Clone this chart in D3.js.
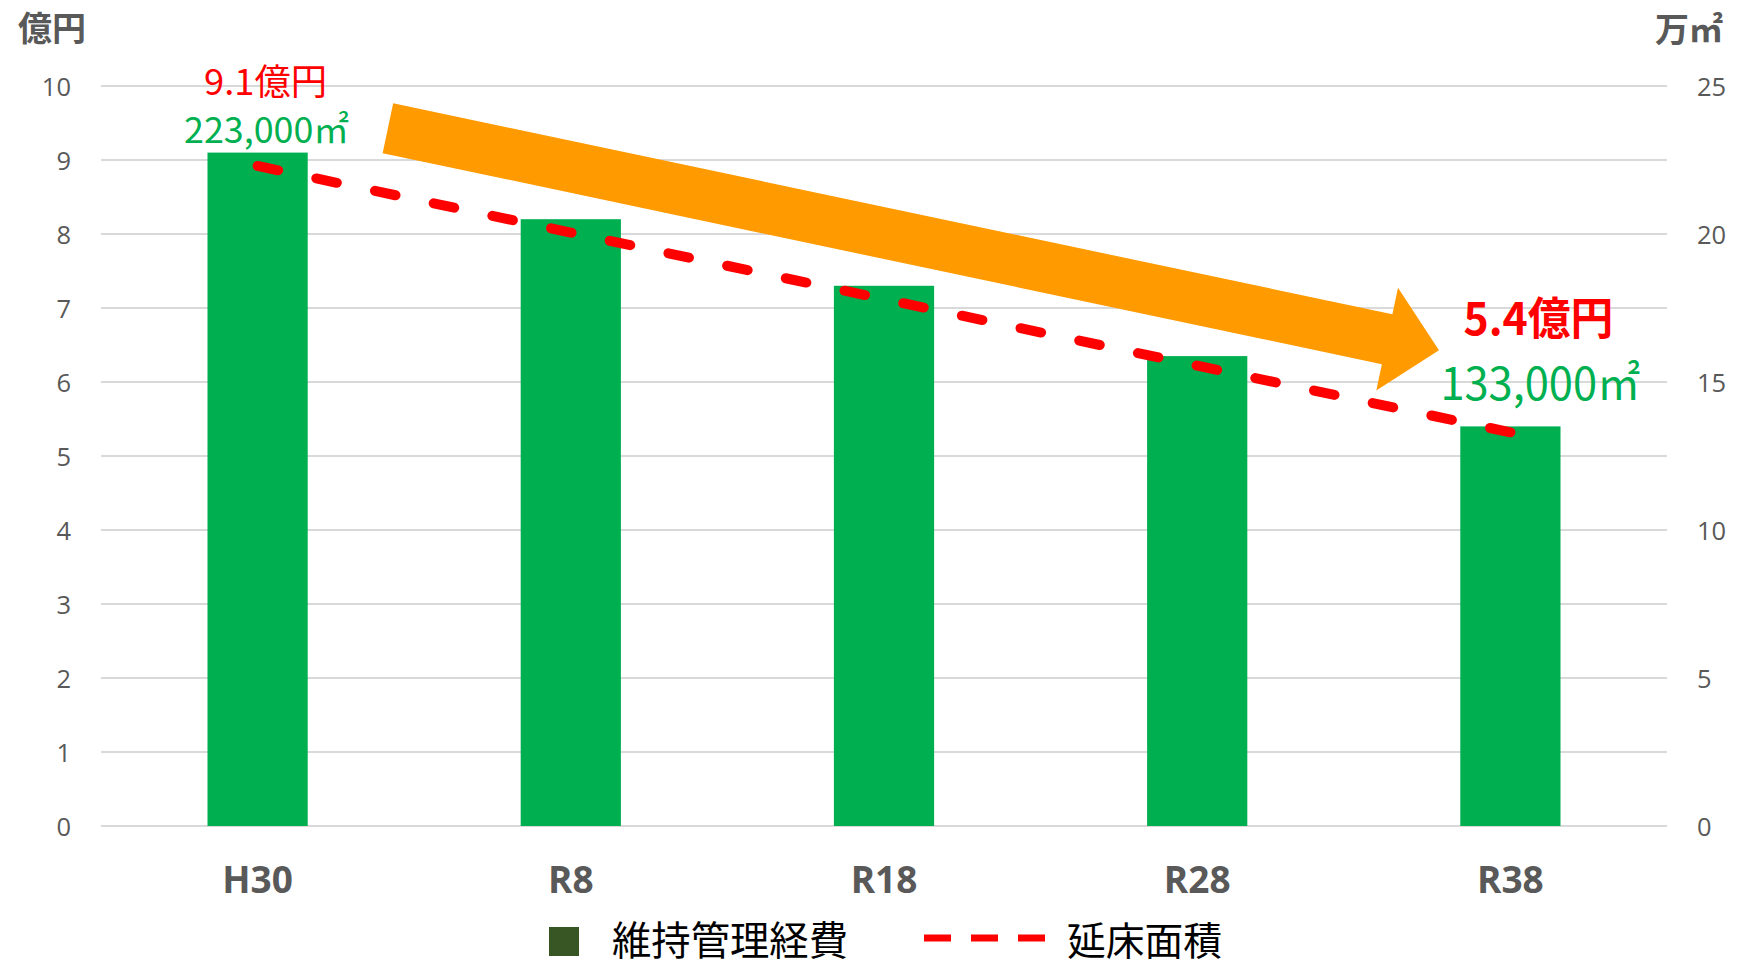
<!DOCTYPE html>
<html>
<head>
<meta charset="utf-8">
<script src="https://cdn.jsdelivr.net/npm/d3@7"></script>
<style>
  html, body { margin: 0; padding: 0; background: #ffffff; }
  svg { display: block; }
</style>
</head>
<body>
<svg id="chart" width="1748" height="966"></svg>
<script>
// ---------- data ----------
const categories = ["H30", "R8", "R18", "R28", "R38"];
const costValues = [9.1, 8.2, 7.3, 6.35, 5.4];          // 維持管理経費 (億円)
const areaValues = [22.3, 20.05, 17.8, 15.55, 13.3];    // 延床面積 (万㎡)
const leftTicks = [0, 1, 2, 3, 4, 5, 6, 7, 8, 9, 10];
const rightTicks = [0, 5, 10, 15, 20, 25];
const leftTitle = "億円";
const rightTitle = "万㎡";
const seriesNames = ["維持管理経費", "延床面積"];
const startCostLabel = "9.1億円";
const startAreaLabel = "223,000㎡";
const endCostLabel = "5.4億円";
const endAreaLabel = "133,000㎡";

// ---------- layout ----------
const W = 1748, H = 966;
const plot = { left: 101, right: 1667, top: 86, bottom: 826 };
const CJK = "'Noto Sans CJK JP', 'Noto Sans CJK SC', sans-serif";
const NUM = "'Open Sans', 'Noto Sans', sans-serif";
const GRAY = "#595959";
const GREEN = "#00B050";
const RED = "#FF0000";

const svg = d3.select("#chart");

const x = d3.scaleBand().domain(categories)
  .range([plot.left, plot.right]).paddingInner(0.68).paddingOuter(0.34);
const step = x.step();
const cx = c => x(c) + x.bandwidth() / 2;
const yL = d3.scaleLinear().domain([0, 10]).range([plot.bottom, plot.top]);
const yR = d3.scaleLinear().domain([0, 25]).range([plot.bottom, plot.top]);

// gridlines
svg.append("g").selectAll("line").data(leftTicks).join("line")
  .attr("x1", plot.left).attr("x2", plot.right)
  .attr("y1", d => yL(d)).attr("y2", d => yL(d))
  .attr("stroke", "#D9D9D9").attr("stroke-width", 2);

// left axis
const gL = svg.append("g").attr("transform", `translate(${plot.left - 30},0)`)
  .call(d3.axisLeft(yL).tickValues(leftTicks).tickSize(0).tickPadding(0).tickFormat(d3.format("d")));
gL.select(".domain").remove();
gL.selectAll("text").attr("font-family", NUM).attr("font-size", 25.5)
  .attr("fill", GRAY).attr("dy", "0.36em");

// right axis
const gR = svg.append("g").attr("transform", `translate(${plot.right + 30},0)`)
  .call(d3.axisRight(yR).tickValues(rightTicks).tickSize(0).tickPadding(0).tickFormat(d3.format("d")));
gR.select(".domain").remove();
gR.selectAll("text").attr("font-family", NUM).attr("font-size", 25.5)
  .attr("fill", GRAY).attr("dy", "0.36em");

// bottom axis labels
const gX = svg.append("g").attr("transform", `translate(0,${plot.bottom})`)
  .call(d3.axisBottom(x).tickSize(0).tickPadding(0));
gX.select(".domain").remove();
gX.selectAll("text").attr("font-family", NUM).attr("font-size", 37)
  .attr("font-weight", "bold").attr("fill", GRAY)
  .attr("dy", null).attr("y", 67);

// axis titles
svg.append("text").attr("x", 52).attr("y", 41).attr("text-anchor", "middle")
  .attr("font-family", CJK).attr("font-size", 34).attr("font-weight", "bold")
  .attr("fill", GRAY).text(leftTitle);
svg.append("text").attr("x", 1689).attr("y", 42).attr("text-anchor", "middle")
  .attr("font-family", CJK).attr("font-size", 34).attr("font-weight", "bold")
  .attr("fill", GRAY).text(rightTitle);

// bars
svg.append("g").selectAll("rect").data(categories).join("rect")
  .attr("x", c => x(c)).attr("width", x.bandwidth())
  .attr("y", (c, i) => yL(costValues[i]))
  .attr("height", (c, i) => yL(0) - yL(costValues[i]))
  .attr("fill", GREEN);

// dashed line
const line = d3.line().x((d, i) => cx(categories[i])).y(d => yR(d));
svg.append("path").datum(areaValues).attr("d", line)
  .attr("fill", "none").attr("stroke", RED).attr("stroke-width", 10)
  .attr("stroke-linecap", "round").attr("stroke-dasharray", "21,39");

// orange arrow annotation (anchored to the scales)
const arrowFrom = { cat: "H30", offset: 0.416, value: 9.43 };
const arrowTo = { cat: "R38", offset: -0.228, value: 6.43 };
const P0 = [cx(arrowFrom.cat) + arrowFrom.offset * step, yL(arrowFrom.value)];
const P1 = [cx(arrowTo.cat) + arrowTo.offset * step, yL(arrowTo.value)];
const dx = P1[0] - P0[0], dy = P1[1] - P0[1];
const len = Math.hypot(dx, dy);
const dir = [dx / len, dy / len];
const perp = [-dir[1], dir[0]];
const headLen = 53, shaftHalf = 25.5, headHalf = 52.5;
const base = [P1[0] - dir[0] * headLen, P1[1] - dir[1] * headLen];
const off = (p, k) => [p[0] + perp[0] * k, p[1] + perp[1] * k];
const arrowPts = [off(P0, -shaftHalf), off(base, -shaftHalf), off(base, -headHalf), P1,
  off(base, headHalf), off(base, shaftHalf), off(P0, shaftHalf)];
svg.append("path").attr("d", "M" + arrowPts.map(p => p.join(",")).join("L") + "Z")
  .attr("fill", "#FF9B00");

// value annotations
function label(txt, xPos, yPos, size, color, weight, width) {
  svg.append("text").attr("x", xPos).attr("y", yPos).attr("text-anchor", "middle")
    .attr("font-family", CJK).attr("font-size", size).attr("font-weight", weight)
    .attr("fill", color).attr("textLength", width).attr("lengthAdjust", "spacingAndGlyphs")
    .text(txt);
}
const c0 = cx(categories[0]), c4 = cx(categories[4]);
label(startCostLabel, c0 + 8, 95, 36, RED, "normal", 123);
label(startAreaLabel, c0 + 9, 143, 36, GREEN, "normal", 165);
label(endCostLabel, c4 + 28, 335, 45, RED, "bold", 150);
label(endAreaLabel, c4 + 30, 400, 45, GREEN, "normal", 200);

// legend
const lg = svg.append("g");
lg.append("rect").attr("x", 549).attr("y", 927).attr("width", 30).attr("height", 29)
  .attr("fill", "#375623");
lg.append("text").attr("x", 612).attr("y", 955).attr("font-family", CJK)
  .attr("font-size", 39.3).attr("fill", "#000").attr("textLength", 236)
  .attr("lengthAdjust", "spacingAndGlyphs").text(seriesNames[0]);
lg.append("line").attr("x1", 924).attr("x2", 1045).attr("y1", 938).attr("y2", 938)
  .attr("stroke", RED).attr("stroke-width", 7).attr("stroke-dasharray", "27,20");
lg.append("text").attr("x", 1067).attr("y", 955).attr("font-family", CJK)
  .attr("font-size", 39).attr("fill", "#000").attr("textLength", 155)
  .attr("lengthAdjust", "spacingAndGlyphs").text(seriesNames[1]);
</script>
</body>
</html>
